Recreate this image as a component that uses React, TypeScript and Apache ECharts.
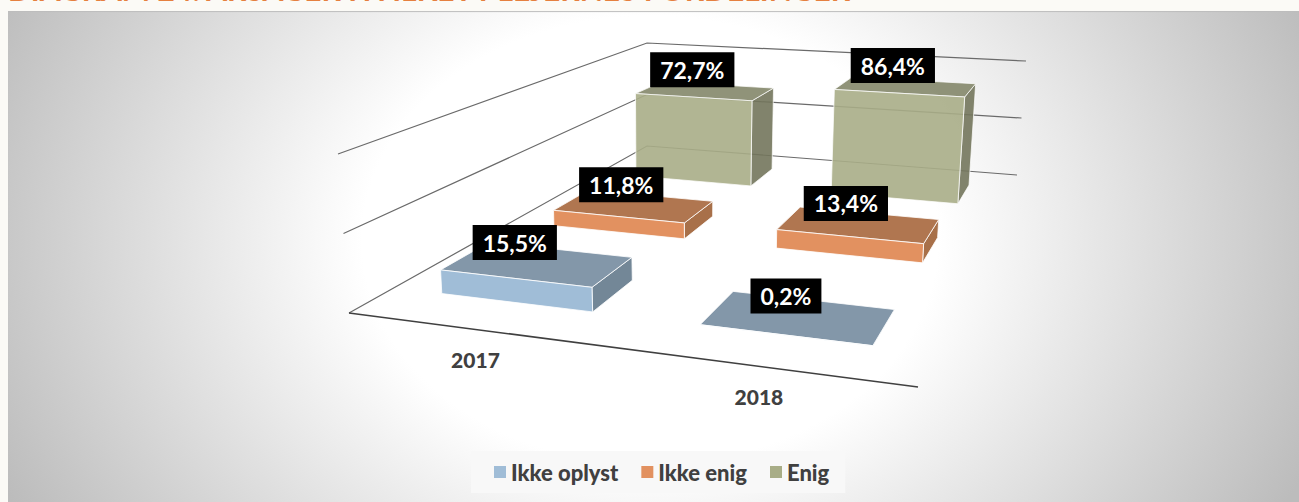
import React, { useEffect, useRef } from "react";
import * as echarts from "echarts";

const categories = ["2017", "2018"];
const seriesNames = ["Ikke oplyst", "Ikke enig", "Enig"];
const ikkeOplyst = [15.5, 0.2];
const ikkeEnig = [11.8, 13.4];
const enig = [72.7, 86.4];
const axisLevels = [0, 50, 100];
const titleText = "DIAGRAM 24: ÅRSAGER HVILKET PLEJERNES FORDELINGER";

type Pt = [number, number];
// Perspective frame of the 3D plot: floor and roof planes [front-left, front-right, back-right, back-left]
const floorQuad: Pt[] = [[349, 313], [918, 387], [1017, 175], [647, 146]];
const roofQuad: Pt[] = [[338, 154], [929, 205], [1026, 61], [647, 43]];
const axisMax = 100;
const barWidthRatio = 0.6;
const barDepthRatio = 0.39;

function homography(q: Pt[]) {
  const [p0, p1, p2, p3] = q;
  const dx1 = p1[0] - p2[0], dy1 = p1[1] - p2[1];
  const dx2 = p3[0] - p2[0], dy2 = p3[1] - p2[1];
  const sx = p0[0] - p1[0] + p2[0] - p3[0], sy = p0[1] - p1[1] + p2[1] - p3[1];
  const den = dx1 * dy2 - dx2 * dy1;
  const g = (sx * dy2 - dx2 * sy) / den;
  const h = (dx1 * sy - sx * dy1) / den;
  const a = p1[0] - p0[0] + g * p1[0], b = p3[0] - p0[0] + h * p3[0], c = p0[0];
  const d = p1[1] - p0[1] + g * p1[1], e = p3[1] - p0[1] + h * p3[1], f = p0[1];
  return (u: number, v: number): Pt => {
    const w = g * u + h * v + 1;
    return [(a * u + b * v + c) / w, (d * u + e * v + f) / w];
  };
}
const floorH = homography(floorQuad);
const roofH = homography(roofQuad);
// u: along categories, v: depth (series rows), value: height on the value axis
function project(u: number, v: number, value: number): Pt {
  const t = value / axisMax;
  const a = floorH(u, v), b = roofH(u, v);
  return [a[0] + (b[0] - a[0]) * t, a[1] + (b[1] - a[1]) * t];
}

const palette = [
  { front: "#a0bdd7", top: "#8397a9", side: "#738797", opacity: 1 },
  { front: "#e29160", top: "#b07650", side: "#a87049", opacity: 1 },
  { front: "#a8ad87", top: "#84876a", side: "#73765c", opacity: 0.9 },
];
const edge = "rgba(255,255,255,0.8)";

function barBox(cat: number, row: number) {
  const uc = (cat + 0.5) / categories.length;
  const vc = (row + 0.5) / seriesNames.length;
  const hu = (barWidthRatio / categories.length) / 2;
  const hv = (barDepthRatio / seriesNames.length) / 2;
  return { u0: uc - hu, u1: uc + hu, v0: vc - hv, v1: vc + hv, uc, vc };
}

function barSeries(name: string, row: number, values: number[], z: number) {
  const col = palette[row];
  return {
    type: "custom",
    name,
    z,
    coordinateSystem: "none",
    itemStyle: { color: col.front },
    data: values.map((v, i) => [i, v]),
    silent: true,
    renderItem: (_: any, api: any) => {
      const cat = api.value(0), val = api.value(1);
      const { u0, u1, v0, v1 } = barBox(cat, row);
      const face = (pts: Pt[], fill: string) => ({
        type: "polygon",
        shape: { points: pts },
        style: { fill, stroke: edge, lineWidth: 1, opacity: col.opacity },
      });
      return {
        type: "group",
        children: [
          face([project(u1, v0, 0), project(u1, v1, 0), project(u1, v1, val), project(u1, v0, val)], col.side),
          face([project(u0, v0, val), project(u1, v0, val), project(u1, v1, val), project(u0, v1, val)], col.top),
          face([project(u0, v0, 0), project(u1, v0, 0), project(u1, v0, val), project(u0, v0, val)], col.front),
        ],
      };
    },
  };
}

function labelSeries(row: number, values: number[]) {
  return {
    type: "custom",
    name: "label-" + row,
    z: 10,
    coordinateSystem: "none",
    data: values.map((v, i) => [i, v]),
    silent: true,
    renderItem: (_: any, api: any) => {
      const cat = api.value(0), val = api.value(1);
      const { uc, vc } = barBox(cat, row);
      const p = project(uc, vc, val);
      const shiftX = row === 0 && cat === 0 ? -23 : -13;
      return {
        type: "text",
        x: p[0] + shiftX,
        y: p[1] - 21,
        style: {
          text: val.toFixed(1).replace(".", ",") + "%",
          fill: "#ffffff",
          font: "700 23px Lato",
          align: "center",
          verticalAlign: "middle",
          lineHeight: 21,
          backgroundColor: "#000000",
          padding: [7, 10],
        },
      };
    },
  };
}

const gridSeries = {
  type: "custom",
  name: "grid",
  z: 1,
  coordinateSystem: "none",
  silent: true,
  data: axisLevels.map((l) => [l]),
  renderItem: (_: any, api: any) => {
    const l = api.value(0);
    const children: any[] = [
      {
        type: "polyline",
        shape: { points: [project(0, 0, l), project(0, 1, l), project(1, 1, l)] },
        style: { fill: "none", stroke: "#6a6a6a", lineWidth: 1.2 },
      },
    ];
    if (l === 0) {
      children.push({
        type: "line",
        shape: { x1: floorQuad[0][0], y1: floorQuad[0][1], x2: floorQuad[1][0], y2: floorQuad[1][1] },
        style: { stroke: "#404040", lineWidth: 1.6 },
      });
    }
    return { type: "group", children };
  },
};

const categorySeries = {
  type: "custom",
  name: "categories",
  z: 1,
  coordinateSystem: "none",
  silent: true,
  data: categories.map((_, i) => [i]),
  renderItem: (_: any, api: any) => {
    const i = api.value(0);
    const p = project((i + 0.5) / categories.length, 0, 0);
    return {
      type: "text",
      x: p[0] - 1,
      y: p[1] + 30,
      style: {
        text: categories[i],
        fill: "#404040",
        font: "900 21px Lato",
        align: "center",
        verticalAlign: "middle",
      },
    };
  },
};

export default function App() {
  const ref = useRef<HTMLDivElement>(null);
  useEffect(() => {
    document.body.style.margin = "0";
    document.body.style.background = "#fbfaf6";
    const chart = echarts.init(ref.current!, undefined, { renderer: "svg" });
    chart.setOption({
      animation: false,
      graphic: [
        {
          type: "text",
          left: 8,
          top: -26,
          style: { text: titleText, fill: "#e5803f", font: "700 30px Lato" },
        } as any,
      ],
      legend: {
        data: seriesNames,
        left: 471,
        top: 451,
        padding: [10, 16, 10, 23],
        itemWidth: 12,
        itemHeight: 12,
        itemGap: 23,
        icon: "rect",
        backgroundColor: "#f8f8f8",
        textStyle: { color: "#404040", fontFamily: "Lato", fontWeight: 900, fontSize: 22 },
      },
      series: [
        gridSeries,
        categorySeries,
        barSeries(seriesNames[2], 2, enig, 2),
        barSeries(seriesNames[1], 1, ikkeEnig, 3),
        barSeries(seriesNames[0], 0, ikkeOplyst, 4),
        labelSeries(2, enig),
        labelSeries(1, ikkeEnig),
        labelSeries(0, ikkeOplyst),
      ],
    });
    return () => chart.dispose();
  }, []);
  return (
    <div style={{ position: "relative", width: 1299, height: 502, overflow: "hidden" }}>
      <div
        style={{
          position: "absolute",
          left: 8,
          top: 11,
          right: 0,
          bottom: 0,
          boxShadow: "inset 0 1px 1px #bdbdbd",
          background: "radial-gradient(ellipse 720px 560px at 642px 229px, #ffffff 40%, #bcbcbc 100%)",
        }}
      />
      <div ref={ref} style={{ position: "absolute", left: 0, top: 0, width: 1299, height: 502 }} />
    </div>
  );
}
